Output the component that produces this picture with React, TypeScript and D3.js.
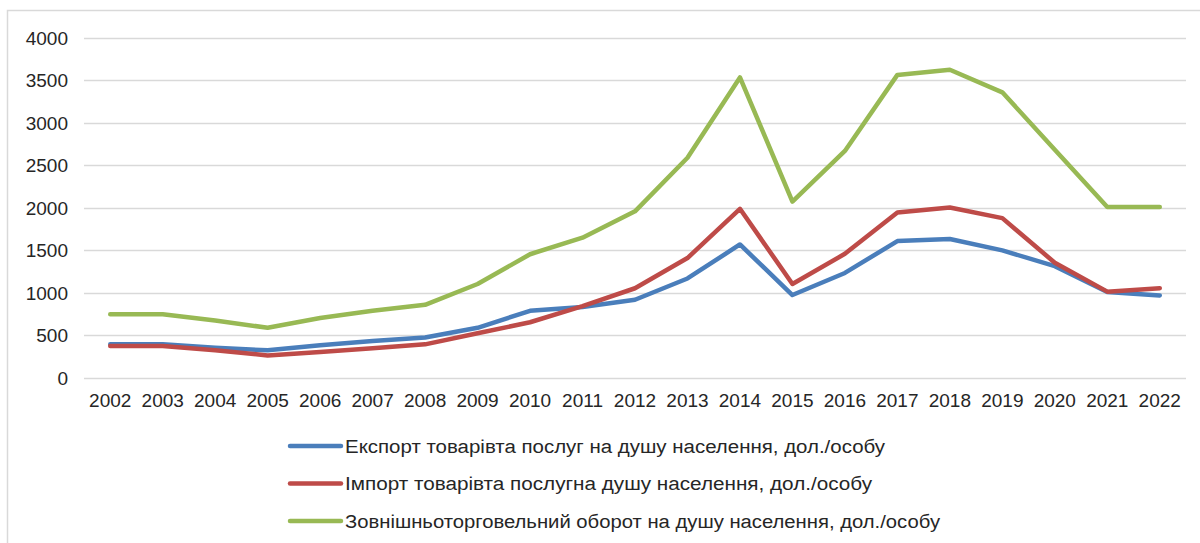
import React from "react";
import * as d3 from "d3";

const years = ["2002","2003","2004","2005","2006","2007","2008","2009","2010","2011","2012","2013","2014","2015","2016","2017","2018","2019","2020","2021","2022"];
const exportVals = [390, 390, 350, 320, 380, 430, 470, 585, 785, 830, 915, 1165, 1565, 970, 1230, 1605, 1630, 1495, 1310, 1005, 965];
const importVals = [370, 370, 320, 260, 300, 345, 390, 520, 650, 840, 1050, 1405, 1985, 1100, 1455, 1940, 2000, 1875, 1350, 1010, 1050];
const turnoverVals = [745, 745, 670, 585, 700, 785, 855, 1100, 1450, 1645, 1955, 2585, 3530, 2070, 2665, 3560, 3620, 3355, 2680, 2005, 2005];
const yTicks = [0, 500, 1000, 1500, 2000, 2500, 3000, 3500, 4000];
const seriesNames = [
  "Експорт товарівта послуг на душу населення, дол./особу",
  "Імпорт товарівта послугна душу населення, дол./особу",
  "Зовнішньоторговельний оборот на душу населення, дол./особу",
];
const seriesColors = ["#4A7EBB", "#BE4B48", "#98B954"];
const legendWidths = [540, 527, 595];

export default function App() {
  const W = 1200, H = 543;
  const x = d3.scaleBand<string>().domain(years).range([84, 1186]);
  const y = d3.scaleLinear().domain([0, 4000]).range([377.5, 37.5]);
  const line = d3.line<number>()
    .x((_, i) => (x(years[i]) as number) + x.bandwidth() / 2)
    .y((v) => y(v));
  const data = [exportVals, importVals, turnoverVals];
  const font = "'Liberation Sans', Arial, sans-serif";
  const narrow = "'Liberation Sans Narrow', 'Arial Narrow', 'Liberation Sans', sans-serif";
  return (
    <svg width={W} height={H} style={{ position: "absolute", left: 0, top: 0, background: "#fff" }}>
      <rect x={0} y={0} width={W} height={H} fill="#fff" />
      <path d={`M7.5,${H + 5} V10.5 H${W + 5}`} fill="none" stroke="#D9D9D9" strokeWidth={1.5} />
      {yTicks.map((t) => (
        <g key={t}>
          <line x1={84} x2={1186} y1={Math.round(y(t)) + 0.5} y2={Math.round(y(t)) + 0.5} stroke="#D9D9D9" strokeWidth={1.5} />
          <text x={68} y={y(t) + 7} textAnchor="end" fontFamily={font} fontSize={19} fill="#262626">{t}</text>
        </g>
      ))}
      {years.map((yr) => (
        <text key={yr} x={(x(yr) as number) + x.bandwidth() / 2} y={407} textAnchor="middle" fontFamily={font} fontSize={19} fill="#262626">{yr}</text>
      ))}
      {data.map((d, i) => (
        <path key={i} d={line(d) as string} fill="none" stroke={seriesColors[i]} strokeWidth={4.5} strokeLinejoin="round" strokeLinecap="round" />
      ))}
      {seriesNames.map((n, i) => {
        const ly = 446 + i * 37.5;
        return (
          <g key={n}>
            <line x1={290} x2={341} y1={ly} y2={ly} stroke={seriesColors[i]} strokeWidth={4.5} strokeLinecap="round" />
            <text x={345} y={ly + 6.5} fontFamily={narrow} fontSize={18} fill="#262626" textLength={legendWidths[i]} lengthAdjust="spacingAndGlyphs">{n}</text>
          </g>
        );
      })}
    </svg>
  );
}
